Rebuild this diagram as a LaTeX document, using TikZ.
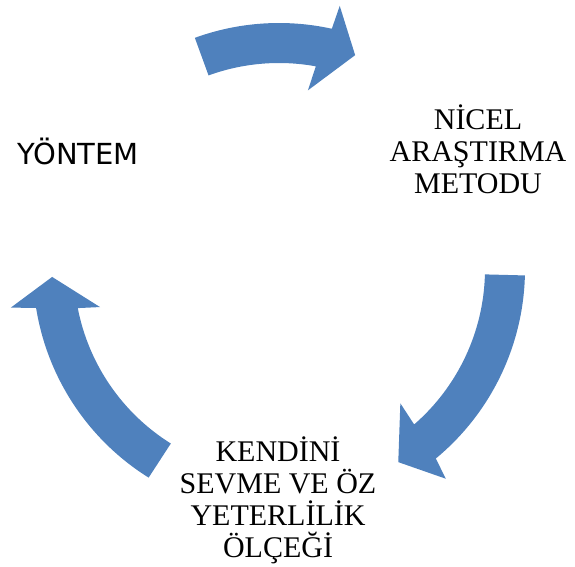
\documentclass[tikz,border=0pt]{standalone}
\usepackage{fontspec}
\setmainfont{Liberation Serif}
\newfontfamily\labelsans{DejaVu Sans}
\usetikzlibrary{calc}
\definecolor{arrowblue}{RGB}{79,129,189}

\begin{document}
\begin{tikzpicture}[x=1pt, y=1pt,
  cyclearrow/.style={fill=arrowblue, draw=none},
  steptext/.style={align=center, inner sep=0pt, font=\fontsize{30}{32}\selectfont}]
\useasboundingbox (0,0) rectangle (575,566);
\coordinate (C) at (279,297);
% top arrow
\fill[cyclearrow] ($(C)+(110:246)$) arc[start angle=110, end angle=77.6, radius=246]
  -- ($(C)+(77:270)$) -- ($(C)+(70.4:227)$) -- ($(C)+(80.8:181)$)
  -- ($(C)+(79.7:206)$) arc[start angle=79.7, end angle=110, radius=206] -- cycle;
% right arrow
\fill[cyclearrow] ($(C)+(-1.5:246)$) arc[start angle=-1.5, end angle=-50.4, radius=246]
  -- ($(C)+(-51.5:268)$) -- ($(C)+(-58.3:227)$) -- ($(C)+(-47.9:181)$)
  -- ($(C)+(-49:206)$) arc[start angle=-49, end angle=-1.5, radius=206] -- cycle;
% left arrow
\fill[cyclearrow] ($(C)+(238:246)$) arc[start angle=238, end angle=189.1, radius=246]
  -- ($(C)+(188.2:271)$) -- ($(C)+(182:227)$) -- ($(C)+(192:183)$)
  -- ($(C)+(191:205)$) arc[start angle=191, end angle=238, radius=206] -- cycle;
% labels
\node[anchor=base, inner sep=0pt, font=\labelsans\fontsize{29}{32}\selectfont] (yontem) at (78,402) {YÖNTEM};
\node[steptext] (nicel) at (478,417) {NİCEL\\ARAŞTIRMA\\METODU};
\node[steptext] (olcek) at (278,66) {KENDİNİ\\SEVME VE ÖZ\\YETERLİLİK\\ÖLÇEĞİ};
\end{tikzpicture}
\end{document}
